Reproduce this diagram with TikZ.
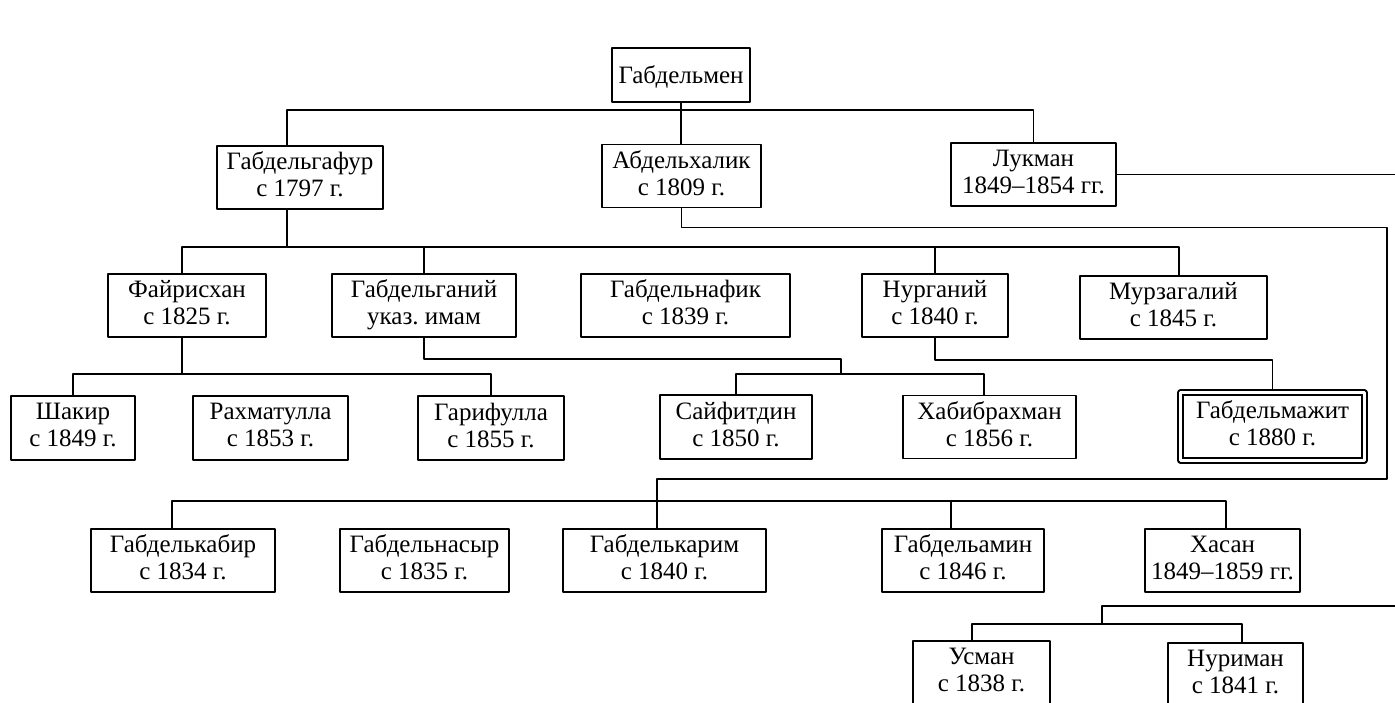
\documentclass[tikz,border=0pt]{standalone}
\usepackage{fontspec}
\setmainfont{Liberation Serif}
\usetikzlibrary{calc}
\frenchspacing

\begin{document}
\begin{tikzpicture}[x = .5pt, y = -.5pt, line join = round, line width = .8pt,
  person/.style = {draw, align = center, inner sep = 0,
    minimum width = #1*.5pt, minimum height = 31.5pt,
    font = \fontsize{12.5}{13.5}\selectfont,
    execute at begin node = \rule{0pt}{11pt},
    execute at end node = \rule[-3pt]{0pt}{3pt}},
  heir/.style = {person = #1, double, double distance = 1.5pt,
    outer sep = 1.55pt, minimum height = 34pt}]
  \useasboundingbox (0, 0) rectangle (1395, 702);
  \coordinate (edge) at (1395, 0);

  % first and second generation
  \node[person = 138, minimum height = 27pt] (gabdelmen) at (681, 75)
  {Габдельмен};
  \node[person = 166] (gafur) at (300, 177.5) {Габдельгафур\\с 1797 г.};
  \node[person = 159] (khalik) at (681.5, 176) {Абдельхалик\\с 1809 г.};
  \node[person = 165] (lukman) at (1033.5, 174.5) {Лукман\\1849–1854 гг.};

  % sons of Габдельгафур
  \node[person = 158] (fairis) at (187, 305.5) {Файрисхан\\с 1825 г.};
  \node[person = 184] (gani) at (424, 305.5) {Габдельганий\\указ. имам};
  \node[person = 209] (nafik) at (685.5, 305.5) {Габдельнафик\\с 1839 г.};
  \node[person = 146] (nurgani) at (935, 305.5) {Нурганий\\с 1840 г.};
  \node[person = 187] (murza) at (1173.5, 307.5) {Мурзагалий\\с 1845 г.};

  % grandsons
  \node[person = 124, minimum height = 32pt] (shakir) at (73, 428)
  {Шакир\\с 1849 г.};
  \node[person = 155, minimum height = 32pt] (rakhmat) at (270.5, 428)
  {Рахматулла\\с 1853 г.};
  \node[person = 146, minimum height = 32pt] (garif) at (491, 428)
  {Гарифулла\\с 1855 г.};
  \node[person = 152, minimum height = 32pt] (saif) at (736, 427)
  {Сайфитдин\\с 1850 г.};
  \node[person = 173] (khabib) at (989.5, 427) {Хабибрахман\\с 1856 г.};
  \node[heir = 184] (mazhit) at (1272.5, 426.5) {Габдельмажит\\с 1880 г.};

  % sons of Абдельхалик
  \node[person = 184] (kabir) at (183, 560.5) {Габделькабир\\с 1834 г.};
  \node[person = 169] (nasyr) at (424.5, 560.5) {Габдельнасыр\\с 1835 г.};
  \node[person = 203] (karim) at (664.5, 560.5) {Габделькарим\\с 1840 г.};
  \node[person = 162] (amin) at (963, 560.5) {Габдельамин\\с 1846 г.};
  \node[person = 155] (khasan) at (1222.5, 560.5)
  {Хасан\\1849–1859 гг.};

  % sons of Лукман
  \node[person = 137, minimum height = 32pt] (usman) at (981.5, 673)
  {Усман\\с 1838 г.};
  \node[person = 135, minimum height = 32pt] (nuriman) at (1235.5, 675)
  {Нуриман\\с 1841 г.};

  % lines
  \draw (gabdelmen.south) -- ++(0, 7) coordinate (bus0);
  \draw ($(gafur.north) + (-13, 0)$) |- (bus0) -| (lukman.north);
  \draw (bus0) -- (bus0 |- khalik.north);

  \draw ($(gafur.south) + (-13, 0)$) -- ++(0, 37) coordinate (bus1);
  \draw ($(fairis.north) + (-5, 0)$) |- (bus1) -| ($(murza.north) + (5.5, 0)$);
  \draw (bus1 -| gani.north) -- (gani.north);
  \draw (bus1 -| nurgani.north) -- (nurgani.north);

  \draw ($(fairis.south) + (-5, 0)$) -- ++(0, 36) coordinate (bus2);
  \draw (shakir.north) |- (bus2) -| (garif.north);

  \draw (gani.south) -- ++(0, 21) -| ++(417, 15) coordinate (bus3);
  \draw (saif.north) |- (bus3) -| ($(khabib.north) + (-5.5, 0)$);

  \draw (nurgani.south) -- ++(0, 22) -| (mazhit.north);

  \coordinate (turn) at (1387, 479);
  \draw (khalik.south) -- ++(0, 19) -| (turn)
  -| ($(karim.north) + (-7.5, 0)$);
  \draw ($(kabir.north) + (-11, 0)$) -- ++(0, -27)
  -| ($(khasan.north) + (3.5, 0)$);
  \draw ($(amin.north) + (-12, 0)$) -- ++(0, -27);

  \draw (lukman.east) -- (lukman.east -| edge);
  \draw (edge |- 0, 606) -| ++(-293, 18) coordinate (bus4);
  \draw ($(usman.north) + (-9.5, 0)$) |- (bus4)
  -| ($(nuriman.north) + (6.5, 0)$);
\end{tikzpicture}
\end{document}
